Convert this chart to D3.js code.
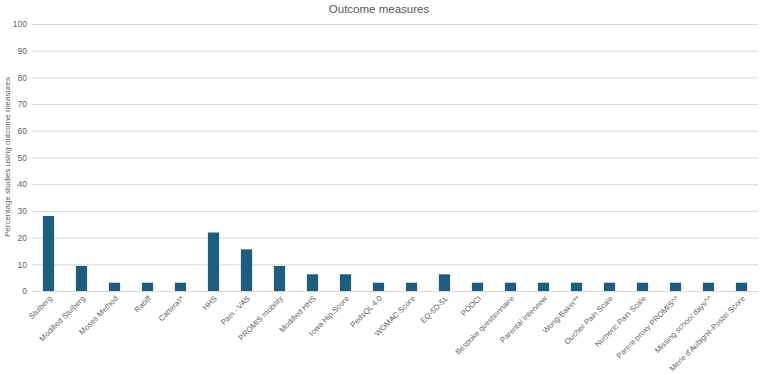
<!DOCTYPE html>
<html><head><meta charset="utf-8">
<script src="https://cdn.jsdelivr.net/npm/d3@7"></script>
<style>body{margin:0;background:#fff;}svg{display:block;font-family:"Liberation Sans",Arial,sans-serif;}</style>
</head><body>
<svg id="c" width="760" height="375"></svg>
<script>
const categories = ["Stulberg","Modified Stulberg","Moses Method","Ratliff","Catterall*","HHS","Pain - VAS","PROMIS mobility","Modified HHS","Iowa Hip Score","PedsQL 4.0","WOMAC Score","EQ-5D-5L","PODCI","Bespoke questionnaire","Parental Interview","Wong-Baker**","Oucher Pain Scale","Numeric Pain Scale","Parent-proxy PROMIS^^","Missing school days^^","Merle d'Aubigné-Postel Score"];
const values = [28.1,9.4,3.1,3.1,3.1,21.9,15.6,9.4,6.25,6.25,3.1,3.1,6.25,3.1,3.1,3.1,3.1,3.1,3.1,3.1,3.1,3.1];
const yTicks = [0,10,20,30,40,50,60,70,80,90,100];
const title = "Outcome measures";
const yTitle = "Percentage studies using outcome measures";

const svg = d3.select("#c");
const pL = 32, pR = 758, pT = 24, pB = 291;
const x = d3.scaleBand().domain(categories).range([pL, pR]).paddingInner(0.66).paddingOuter(0.33);
const y = d3.scaleLinear().domain([0,100]).range([pB, pT]);
const txt = "#666666";

svg.append("text").attr("x", 379).attr("y", 13).attr("text-anchor","middle")
  .attr("font-size", 11.5).attr("fill", "#595959").text(title);

const ga = svg.append("g").attr("transform", `translate(${pL},0)`)
  .call(d3.axisLeft(y).tickValues(yTicks).tickSize(-(pR-pL)).tickPadding(5));
ga.select(".domain").remove();
ga.selectAll(".tick line").attr("stroke", "#d9d9d9").attr("stroke-width", 1);
ga.selectAll(".tick text").attr("fill", txt).attr("font-size", 8.5).attr("font-family","Liberation Sans, Arial, sans-serif");

svg.append("g").selectAll("rect").data(values).join("rect")
  .attr("x", (d,i) => x(categories[i]))
  .attr("width", x.bandwidth())
  .attr("y", d => y(d))
  .attr("height", d => y(0) - y(d))
  .attr("fill", "#1b5e80");

const gx = svg.append("g").attr("transform", `translate(0,${pB})`)
  .call(d3.axisBottom(x).tickSize(0).tickPadding(0));
gx.select(".domain").attr("stroke", "#d9d9d9");
gx.selectAll(".tick text")
  .attr("font-size", 7.8).attr("fill", txt).attr("font-family","Liberation Sans, Arial, sans-serif")
  .attr("text-anchor", "end").attr("dy", null).attr("y", 0)
  .attr("transform", "translate(4,8) rotate(-45)");

svg.append("text").attr("transform", `translate(10,157) rotate(-90)`)
  .attr("text-anchor","middle").attr("font-size", 8).attr("fill", txt).text(yTitle);
</script>
</body></html>
